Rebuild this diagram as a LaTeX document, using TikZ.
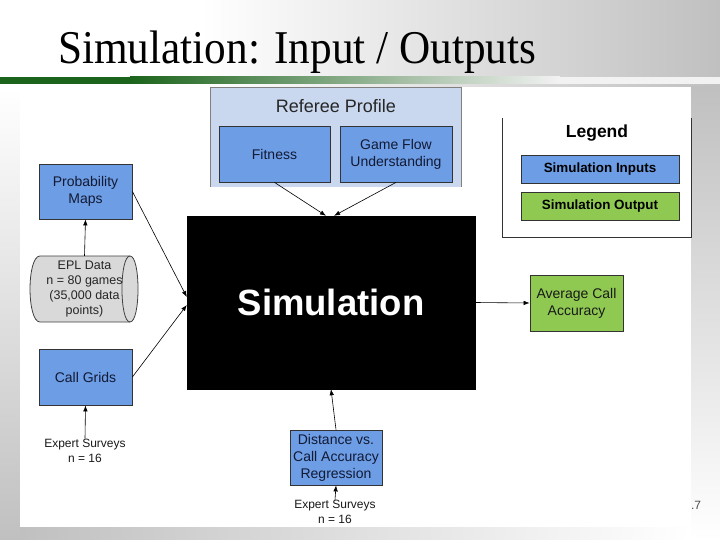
\documentclass[tikz,border=0pt]{standalone}
\usepackage{fontspec}
\setmainfont{Liberation Serif}
\setsansfont{Liberation Sans}
\usetikzlibrary{arrows.meta}
\definecolor{bggray}{RGB}{192,192,192}
\definecolor{boxblue}{RGB}{109,157,229}
\definecolor{boxgreen}{RGB}{143,201,82}
\definecolor{refblue}{RGB}{201,216,238}
\definecolor{darkgreen}{RGB}{28,100,28}
\definecolor{navy}{RGB}{18,26,52}
\definecolor{cylgray}{RGB}{217,217,217}
\begin{document}
\begin{tikzpicture}[x=1pt,y=-1pt,
  inbox/.style={draw=black!80, line width=0.8pt, fill=boxblue, inner sep=0pt,
    font=\sffamily\fontsize{14}{17}\selectfont, text=navy, align=center},
  outbox/.style={draw=black!80, line width=0.8pt, fill=boxgreen, inner sep=0pt,
    font=\sffamily\fontsize{14}{17}\selectfont, text=black!90, align=center},
  legbox/.style={draw=black!80, line width=0.8pt, inner sep=0pt,
    minimum width=158pt, minimum height=28pt,
    font=\sffamily\bfseries\fontsize{13.4}{16}\selectfont, text=black},
  arr/.style={-{Latex[length=6pt,width=4.5pt]}, line width=0.6pt, black},
  note/.style={font=\sffamily\fontsize{12}{15}\selectfont, align=center, inner sep=0pt, text=black!90},
  cylline/.style={draw=black!75, line width=0.8pt}
]
\useasboundingbox (0,0) rectangle (720,540);
% background
\fill[white] (0,0) rectangle (720,87);
\shade[left color=white, right color=bggray] (200,0) rectangle (720,87);
\shade[top color=white, bottom color=bggray] (0,87) rectangle (20,540);
\shade[top color=bggray, bottom color=white] (691,87) rectangle (720,540);
\shade[left color=bggray, right color=white] (20,527) rectangle (691,540);
% green bar
\fill[darkgreen] (0,77) rectangle (130,84);
\shade[left color=darkgreen, right color=white!95!black] (130,77) rectangle (560,84);
\fill[white!95!black] (560,77) rectangle (720,84);
% title
\node[anchor=base west, inner sep=0pt] (title) at (58,64)
  {\scalebox{0.92}[1]{\fontsize{47}{47}\selectfont Simulation: Input / Outputs}};
% white panel
\fill[white] (20,87) rectangle (691,527);
\node[anchor=base, inner sep=0pt, font=\sffamily\fontsize{12}{12}\selectfont, text=black!70] (pnum) at (696,509) {.7};

% referee profile group
\node[fill=refblue, inner sep=0pt, minimum width=250pt, minimum height=99pt] (ref) at (336,137.5) {};
\draw[black!50, line width=0.8pt] (ref.south west) -- (ref.north west) -- (ref.north east) -- (ref.south east);
\node[inner sep=0pt, font=\sffamily\fontsize{18}{20}\selectfont, text=black!85] (reflabel) at (336,106) {Referee Profile};
\node[inbox, minimum width=111pt, minimum height=56pt] (fitness) at (274.5,154) {Fitness};
\node[inbox, minimum width=112pt, minimum height=56pt] (gameflow) at (396,154) {Game Flow\\Understanding};

% simulation
\node[fill=black, draw=black, inner sep=0pt, minimum width=288pt, minimum height=173pt,
  text=white, font=\sffamily\bfseries\fontsize{36.5}{40}\selectfont] (sim) at (331,302.5) {Simulation};

% left inputs
\node[inbox, minimum width=93pt, minimum height=55pt] (prob) at (85.5,191.5) {Probability\\Maps};
% EPL data cylinder (drawn directly)
\filldraw[cylline, fill=cylgray] (40,256) -- (130,256)
  .. controls (140.7,256) and (140.7,322) .. (130,322) -- (40,322)
  .. controls (26.7,322) and (26.7,256) .. (40,256) -- cycle;
\draw[cylline] (130,256) .. controls (119.3,256) and (119.3,322) .. (130,322);
\node[inner sep=0pt, minimum width=110pt, minimum height=66pt, align=center,
  font=\sffamily\fontsize{12.5}{15}\selectfont, text=black!85] (epl) at (84.5,289)
  {EPL Data\\n = 80 games\\(35,000 data\\points)};
\node[inbox, minimum width=93pt, minimum height=56pt] (callgrids) at (85.5,377) {Call Grids};
\node[note] (es1) at (85,450.5) {Expert Surveys\\n = 16};

% bottom input
\node[inbox, minimum width=92pt, minimum height=55pt] (dist) at (336,457.5) {Distance vs.\\Call Accuracy\\Regression};
\node[note] (es2) at (335,512) {Expert Surveys\\n = 16};

% output
\node[outbox, minimum width=93pt, minimum height=56pt] (avg) at (576.5,303) {Average Call\\Accuracy};

% legend
\node[inner sep=0pt, minimum width=188pt, minimum height=119pt] (legend) at (597,177.5) {};
\draw[black!80, line width=0.8pt] (legend.north west) -- (legend.south west) -- (legend.south east) -- (legend.north east);
\node[inner sep=0pt, font=\sffamily\bfseries\fontsize{17.5}{20}\selectfont] (legtitle) at (597,133) {Legend};
\node[legbox, fill=boxblue] (legin) at (600,169) {Simulation Inputs};
\node[legbox, fill=boxgreen] (legout) at (600,206) {Simulation Output};

% connector end points on the simulation box
\coordinate (simA) at ([yshift=5.5pt]sim.west);
\coordinate (simB) at ([yshift=-2.5pt]sim.west);
\coordinate (simC) at ([xshift=-5pt]sim.north);
\coordinate (simD) at ([xshift=3pt]sim.north);

% connectors
\draw[arr] (epl.north) -- (prob.south);
\draw[arr] (es1.north) -- (callgrids.south);
\draw[arr] (prob.east) -- (simA);
\draw[arr] (callgrids.east) -- (simB);
\draw[arr] (fitness.south) -- (simC);
\draw[arr] (gameflow.south) -- (simD);
\draw[arr] (dist.north) -- (sim.south);
\draw[arr] (es2.north) -- (dist.south);
\draw[arr] (sim.east) -- (avg.west);
\end{tikzpicture}
\end{document}
